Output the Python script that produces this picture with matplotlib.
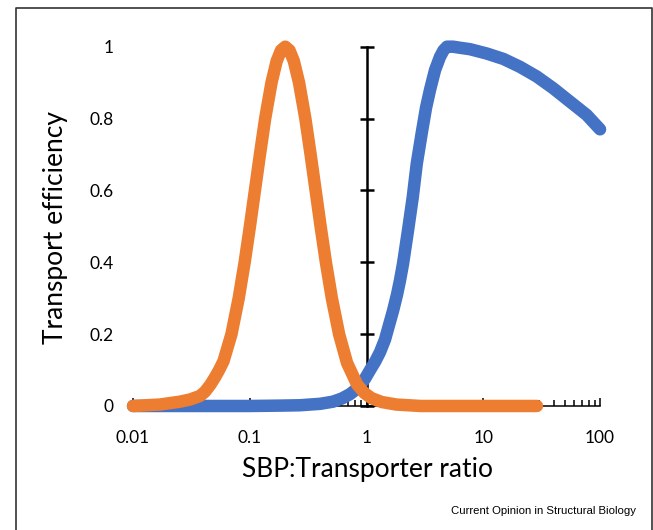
import matplotlib.pyplot as plt
from matplotlib.lines import Line2D

# values (x on a log scale)
orange_x = [0.01, 0.017, 0.0253, 0.0308, 0.0375, 0.0414, 0.0457, 0.0504, 0.0546, 0.0596,
            0.0697, 0.0804, 0.0904, 0.1003, 0.1107, 0.1222, 0.1355, 0.1535, 0.170, 0.1853,
            0.2014, 0.2188, 0.2384, 0.2642, 0.2992, 0.3319, 0.3664, 0.4042, 0.4487, 0.5047,
            0.5821, 0.6808, 0.83, 0.96, 1.1, 1.35, 1.8, 2.9, 28.8]
orange_y = [0.0, 0.004, 0.012, 0.018, 0.028, 0.04, 0.058, 0.08, 0.1, 0.125,
            0.2, 0.3, 0.4, 0.5, 0.6, 0.7, 0.8, 0.9, 0.96, 0.99,
            1.0, 0.99, 0.96, 0.9, 0.8, 0.7, 0.6, 0.5, 0.4, 0.3,
            0.2, 0.12, 0.06, 0.036, 0.022, 0.011, 0.004, 0.0, 0.0]

blue_x = [0.01, 0.1, 0.1815, 0.269, 0.400, 0.516, 0.6166, 0.722, 0.797, 0.880,
          0.971, 1.072, 1.183, 1.305, 1.440, 1.558, 1.687, 1.825, 1.936, 2.054,
          2.267, 2.488, 2.692, 2.971, 3.233, 3.499, 3.862, 4.263, 4.566, 4.893,
          5.507, 6.32, 7.70, 10.7, 14.85, 20.6, 28.7, 39.8, 55.3, 76.9,
          100]
blue_y = [0.0, 0.0, 0.001, 0.002, 0.006, 0.012, 0.021, 0.033, 0.044, 0.058,
          0.076, 0.10, 0.123, 0.15, 0.185, 0.225, 0.265, 0.31, 0.35, 0.396,
          0.489, 0.581, 0.674, 0.76, 0.83, 0.88, 0.935, 0.972, 0.99, 1.0,
          1.0, 0.997, 0.993, 0.981, 0.966, 0.944, 0.917, 0.884, 0.847, 0.81,
          0.77]

x_ticks = [0.01, 0.1, 1, 10, 100]
x_labels = ['0.01', '0.1', '1', '10', '100']
y_ticks = [0, 0.2, 0.4, 0.6, 0.8, 1]
y_labels = ['0', '0.2', '0.4', '0.6', '0.8', '1']

plt.rcParams['font.family'] = ['Lato', 'DejaVu Sans']

fig = plt.figure(figsize=(6.53, 5.30), dpi=100)
ax = fig.add_axes([0.2037, 0.2340, 0.7152, 0.6779])

ax.plot(blue_x, blue_y, color='#4472C4', lw=9, solid_capstyle='round',
        solid_joinstyle='round', clip_on=False, zorder=3)
ax.plot(orange_x, orange_y, color='#ED7D31', lw=9, solid_capstyle='round',
        solid_joinstyle='round', clip_on=False, zorder=4)

ax.set_xscale('log')
ax.set_xlim(0.01, 100)
ax.set_ylim(0, 1)

# vertical axis sits at x = 1, labels stay on the left
ax.spines['top'].set_visible(False)
ax.spines['left'].set_visible(False)
ax.spines['right'].set_position(('data', 1))
ax.spines['right'].set_bounds(0, 1)
ax.spines['right'].set_linewidth(1.8)
ax.spines['bottom'].set_linewidth(1.1)

ax.set_xticks(x_ticks)
ax.set_xticklabels(x_labels)
ax.set_yticks(y_ticks)
ax.set_yticklabels(y_labels)

ax.tick_params(axis='x', which='major', direction='in', length=5.5, width=1.1,
               labelsize=12.5, pad=17)
ax.tick_params(axis='x', which='minor', direction='in', length=4.5, width=1.1)
ax.tick_params(axis='y', left=False, right=True, labelleft=True, labelright=False,
               direction='inout', length=9.5, width=1.8, labelsize=12.5, pad=9)

fig.text(55 / 653, 1 - 227 / 530, 'Transport efficiency', rotation=90,
         ha='center', va='center', fontsize=19)
fig.text(368 / 653, 1 - 469 / 530, 'SBP:Transporter ratio',
         ha='center', va='center', fontsize=19)
fig.text(636 / 653, 1 - 511 / 530, 'Current Opinion in Structural Biology',
         ha='right', va='center', fontsize=8.2, family='Liberation Sans')

# frame around the panel (open at the bottom)
left, top, right = 15.5 / 653, 1 - 7.5 / 530, 651.5 / 653
fig.add_artist(Line2D([left, left, right, right], [0, top, top, 0],
                      transform=fig.transFigure, color='#333333', lw=1.2))

fig.savefig('out.png', dpi=100)
